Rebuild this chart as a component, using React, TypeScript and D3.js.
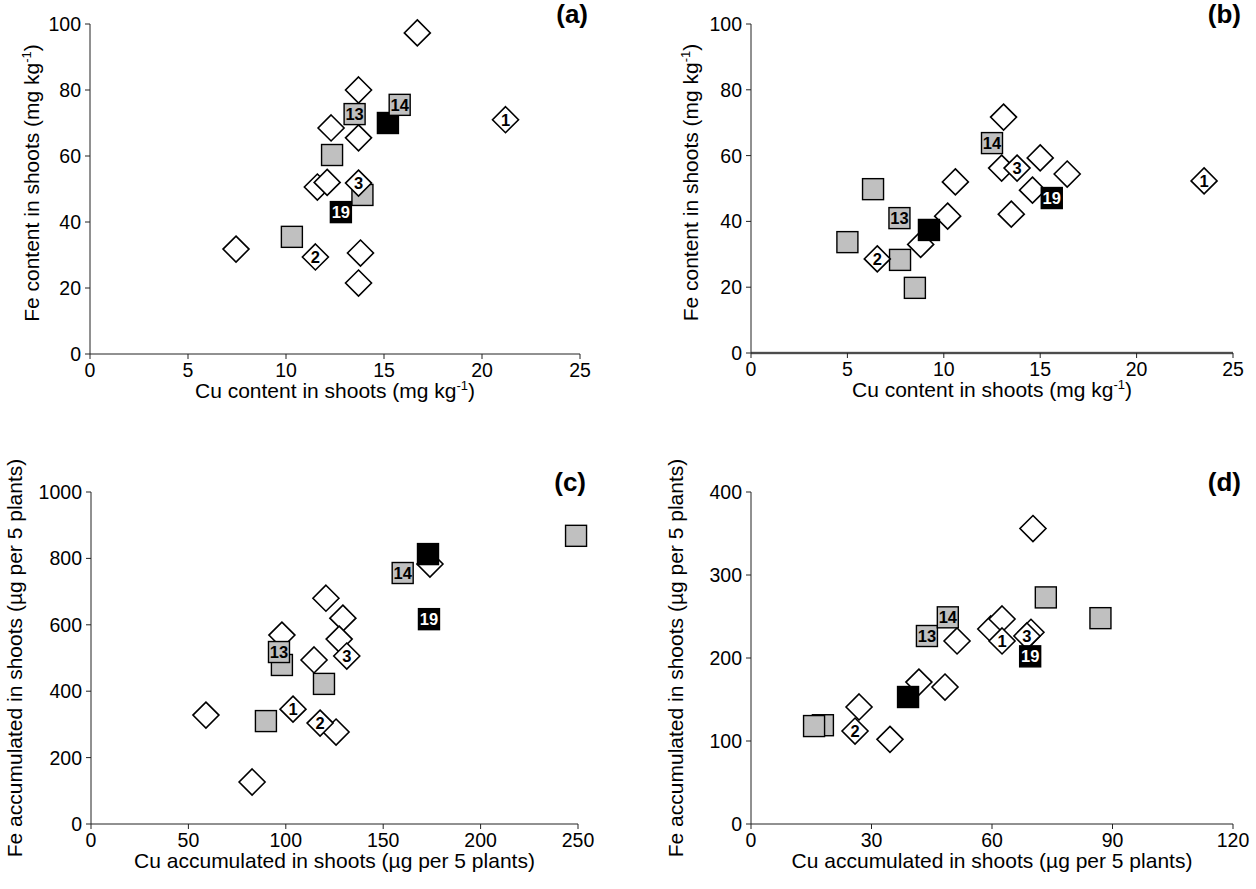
import React from "react";
import * as d3 from "d3";

// Lines labelled on the plots, and how each is drawn
const LINE_IDS = ["1", "2", "3", "13", "14", "19"];
const LINE_KIND = ["diamond", "diamond", "diamond", "gray", "gray", "black"];

// (a) Cu vs Fe content in shoots (mg/kg)
const aDiamonds = [[16.7, 97.3], [13.7, 80], [12.3, 68.5], [13.7, 65.5], [11.6, 50.6], [12.1, 52], [7.45, 31.8], [13.8, 30.6], [13.7, 21.5]];
const aGray = [[12.35, 60.3], [13.9, 48.2], [10.3, 35.5]];
const aBlack = [[15.2, 70]];
const aLinesX = [21.2, 11.5, 13.7, 13.5, 15.8, 12.8];
const aLinesY = [71, 29.4, 51.8, 72.7, 75.5, 43];

// (b) Cu vs Fe content in shoots (mg/kg), second experiment
const bDiamonds = [[13.1, 71.7], [13.0, 56.2], [10.6, 52], [10.2, 41.6], [8.8, 33], [13.5, 42.2], [15.0, 59.3], [16.4, 54.4], [14.6, 49.5]];
const bGray = [[6.33, 49.8], [5.0, 33.7], [7.73, 28.3], [8.5, 19.8]];
const bBlack = [[9.23, 37.4]];
const bLinesX = [23.5, 6.55, 13.8, 7.7, 12.5, 15.6];
const bLinesY = [52.3, 28.6, 56.2, 41, 63.8, 47.1];

// (c) Cu vs Fe accumulated in shoots (µg per 5 plants)
const cDiamonds = [[174, 783], [120.6, 680], [129.3, 620], [127.4, 557], [98, 569], [114.5, 494], [125.8, 277], [59, 328], [82.7, 126.5]];
const cGray = [[98, 479], [119.6, 422], [89.8, 310], [249, 868]];
const cBlack = [[173, 813]];
const cLinesX = [103.7, 117.6, 131.3, 96.5, 160, 173.5];
const cLinesY = [346, 304, 506, 518, 756, 617];

// (d) Cu vs Fe accumulated in shoots (µg per 5 plants), second experiment
const dDiamonds = [[70.2, 356], [51.3, 220.5], [59.7, 235], [62.5, 247], [69.7, 231], [41.8, 171], [48.3, 165], [26.9, 141], [34.6, 102]];
const dGray = [[73.4, 273], [17.9, 119], [15.7, 118], [87, 248]];
const dBlack = [[39.1, 153]];
const dLinesX = [62.5, 25.9, 68.7, 43.8, 49, 69.5];
const dLinesY = [220.5, 112, 226.5, 226.5, 249, 202];

const aXTicks = [0, 5, 10, 15, 20, 25];
const aYTicks = [0, 20, 40, 60, 80, 100];
const cXTicks = [0, 50, 100, 150, 200, 250];
const cYTicks = [0, 200, 400, 600, 800, 1000];
const dXTicks = [0, 30, 60, 90, 120];
const dYTicks = [0, 100, 200, 300, 400];

const FONT = "'Liberation Sans', Arial, sans-serif";
const TICK_FS = 19.5;
const TITLE_FS = 21;

type Panel = {
  tag: string;
  x0: number; x1: number; y0: number; y1: number;
  xDomain: [number, number]; yDomain: [number, number];
  xTicks: number[]; yTicks: number[];
  diamonds: number[][]; gray: number[][]; black: number[][];
  linesX: number[]; linesY: number[];
  xTitle: "content" | "accum";
  yTitleX: number;
  heavyBase?: boolean;
};

const panels: Panel[] = [
  { tag: "(a)", x0: 90, x1: 580, y0: 24, y1: 354, xDomain: [0, 25], yDomain: [0, 100], xTicks: aXTicks, yTicks: aYTicks,
    diamonds: aDiamonds, gray: aGray, black: aBlack, linesX: aLinesX, linesY: aLinesY, xTitle: "content", yTitleX: 32 },
  { tag: "(b)", x0: 751, x1: 1233, y0: 24, y1: 353, xDomain: [0, 25], yDomain: [0, 100], xTicks: aXTicks, yTicks: aYTicks,
    diamonds: bDiamonds, gray: bGray, black: bBlack, linesX: bLinesX, linesY: bLinesY, xTitle: "content", yTitleX: 691, heavyBase: true },
  { tag: "(c)", x0: 91, x1: 578, y0: 492, y1: 824, xDomain: [0, 250], yDomain: [0, 1000], xTicks: cXTicks, yTicks: cYTicks,
    diamonds: cDiamonds, gray: cGray, black: cBlack, linesX: cLinesX, linesY: cLinesY, xTitle: "accum", yTitleX: 15 },
  { tag: "(d)", x0: 751, x1: 1233, y0: 492, y1: 824, xDomain: [0, 120], yDomain: [0, 400], xTicks: dXTicks, yTicks: dYTicks,
    diamonds: dDiamonds, gray: dGray, black: dBlack, linesX: dLinesX, linesY: dLinesY, xTitle: "accum", yTitleX: 676 },
];

const DIAM = 13; // half-diagonal of diamond markers
const SQ = 21; // side of square markers

function Diamond({ cx, cy }: { cx: number; cy: number }) {
  const p = `M${cx},${cy - DIAM}L${cx + DIAM},${cy}L${cx},${cy + DIAM}L${cx - DIAM},${cy}Z`;
  return <path d={p} fill="#fff" stroke="#000" strokeWidth={1.6} />;
}

function Square({ cx, cy, fill }: { cx: number; cy: number; fill: string }) {
  return <rect x={cx - SQ / 2} y={cy - SQ / 2} width={SQ} height={SQ} fill={fill} stroke="#000" strokeWidth={1.4} />;
}

function PanelView({ p }: { p: Panel }) {
  const x = d3.scaleLinear().domain(p.xDomain).range([p.x0, p.x1]);
  const y = d3.scaleLinear().domain(p.yDomain).range([p.y1, p.y0]);
  const midX = (p.x0 + p.x1) / 2;
  const midY = (p.y0 + p.y1) / 2 + (p.xTitle === "content" ? -6 : 0);
  const titleY = p.y1 + 44;
  const labelled = LINE_IDS.map((id, i) => ({ id, kind: LINE_KIND[i], cx: x(p.linesX[i]), cy: y(p.linesY[i]) }));
  return (
    <g>
      {/* axes */}
      {p.heavyBase && <line x1={p.x0} x2={p.x1} y1={p.y1} y2={p.y1} stroke="#777" strokeWidth={2.5} />}
      <line x1={p.x0} x2={p.x1} y1={p.y1} y2={p.y1} stroke="#222" strokeWidth={1} />
      <line x1={p.x0} x2={p.x0} y1={p.y0} y2={p.y1} stroke="#222" strokeWidth={1} />
      {p.xTicks.map((t) => (
        <g key={"xt" + t}>
          <line x1={x(t)} x2={x(t)} y1={p.y1} y2={p.y1 + 5} stroke="#222" />
          <text x={x(t)} y={p.y1 + 23} textAnchor="middle" fontSize={TICK_FS} fontFamily={FONT}>{t}</text>
        </g>
      ))}
      {p.yTicks.map((t) => (
        <g key={"yt" + t}>
          <line x1={p.x0 - 5} x2={p.x0} y1={y(t)} y2={y(t)} stroke="#222" />
          <text x={p.x0 - 9} y={y(t) + 7} textAnchor="end" fontSize={TICK_FS} fontFamily={FONT}>{t}</text>
        </g>
      ))}
      {/* axis titles */}
      <text x={midX} y={titleY} textAnchor="middle" fontSize={TITLE_FS} fontFamily={FONT}>
        {p.xTitle === "content" ? (
          <>Cu content in shoots (mg kg<tspan dy={-8} fontSize={13}>-1</tspan><tspan dy={8}>)</tspan></>
        ) : (
          "Cu accumulated in shoots (µg per 5 plants)"
        )}
      </text>
      <text transform={`translate(${p.yTitleX},${midY}) rotate(-90)`} textAnchor="middle" fontSize={TITLE_FS} fontFamily={FONT} dy={7}>
        {p.xTitle === "content" ? (
          <>Fe content in shoots (mg kg<tspan dy={-8} fontSize={13}>-1</tspan><tspan dy={8}>)</tspan></>
        ) : (
          "Fe accumulated in shoots (µg per 5 plants)"
        )}
      </text>
      <text x={p.x1 + 8} y={p.y0 - 1} textAnchor="end" fontSize={26} fontWeight="bold" fontFamily={FONT}>{p.tag}</text>
      {/* markers */}
      {p.diamonds.map((d, i) => <Diamond key={"d" + i} cx={x(d[0])} cy={y(d[1])} />)}
      {p.gray.map((d, i) => <Square key={"g" + i} cx={x(d[0])} cy={y(d[1])} fill="#c0c0c0" />)}
      {p.black.map((d, i) => <Square key={"b" + i} cx={x(d[0])} cy={y(d[1])} fill="#000" />)}
      {labelled.map((m) => (
        <g key={"l" + m.id}>
          {m.kind === "diamond" ? <Diamond cx={m.cx} cy={m.cy} /> : <Square cx={m.cx} cy={m.cy} fill={m.kind === "gray" ? "#c0c0c0" : "#000"} />}
          <text x={m.cx} y={m.cy + 6} textAnchor="middle" fontSize={16.5} fontWeight="bold" fontFamily={FONT}
            fill={m.kind === "black" ? "#fff" : "#000"}>{m.id}</text>
        </g>
      ))}
    </g>
  );
}

export default function App() {
  return (
    <svg width={1256} height={889} style={{ position: "absolute", left: 0, top: 0, background: "#fff" }}>
      <rect width={1256} height={889} fill="#fff" />
      {panels.map((p) => <PanelView key={p.tag} p={p} />)}
    </svg>
  );
}
